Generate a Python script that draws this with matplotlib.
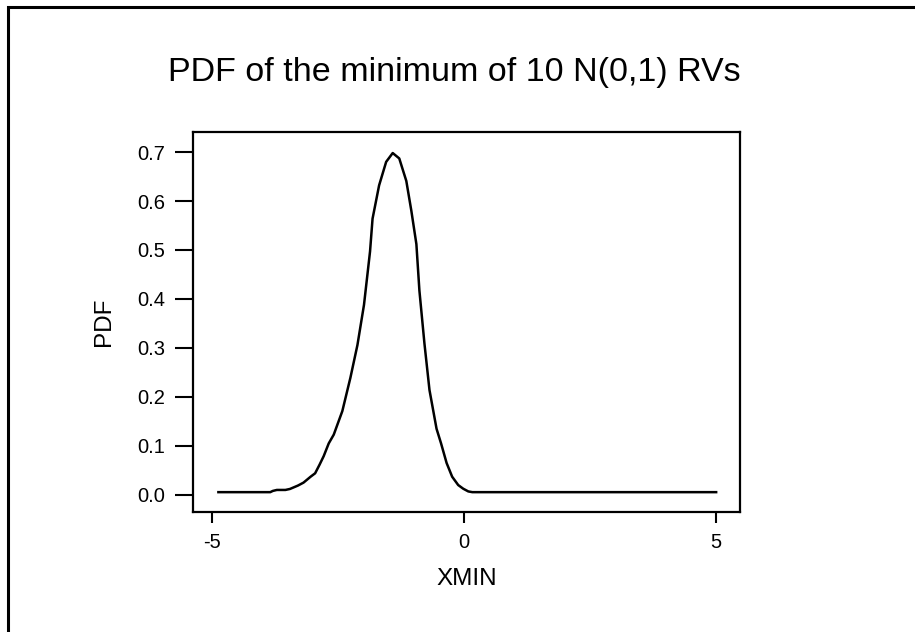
import matplotlib
matplotlib.use("Agg")
import matplotlib.pyplot as plt
from matplotlib.patches import Rectangle

plt.rcParams["font.family"] = ["Liberation Sans", "DejaVu Sans"]

# values
xmin_vals = [-4.88, -3.85, -3.80, -3.72, -3.55, -3.46, -3.30, -3.19, -3.05, -2.96,
             -2.87, -2.79, -2.69, -2.59, -2.42, -2.26, -2.12, -1.99, -1.87, -1.82,
             -1.69, -1.55, -1.42, -1.29, -1.15, -1.05, -0.95, -0.89, -0.79, -0.69,
             -0.55, -0.46, -0.35, -0.24, -0.12, -0.02, 0.08, 0.16, 5.0]
pdf_vals = [0.0055, 0.0055, 0.008, 0.010, 0.010, 0.012, 0.019, 0.025, 0.037, 0.044,
            0.062, 0.079, 0.105, 0.123, 0.171, 0.239, 0.306, 0.388, 0.497, 0.564,
            0.632, 0.680, 0.698, 0.687, 0.641, 0.580, 0.512, 0.417, 0.309, 0.214,
            0.135, 0.105, 0.065, 0.037, 0.020, 0.0125, 0.007, 0.0055, 0.0055]

x_ticks = [-5, 0, 5]
y_ticks = [0.0, 0.1, 0.2, 0.3, 0.4, 0.5, 0.6, 0.7]

fig = plt.figure(figsize=(9.15, 6.32), dpi=100)

# outer frame (runs off the right and bottom edges)
fig.add_artist(Rectangle((8 / 915, -0.5), 2, 1.5 - 7 / 632, transform=fig.transFigure,
                         fill=False, edgecolor="black", linewidth=2.2))

ax = fig.add_axes([0.2106, 0.1899, 0.5985, 0.6005])
ax.plot(xmin_vals, pdf_vals, color="black", linewidth=1.8)

ax.set_xlim(-5.39, 5.48)
ax.set_ylim(-0.035, 0.74)
ax.set_xticks(x_ticks)
ax.set_xticklabels([str(t) for t in x_ticks])
ax.set_yticks(y_ticks)
ax.set_yticklabels([f"{t:.1f}" for t in y_ticks])

for s in ax.spines.values():
    s.set_linewidth(1.6)
ax.tick_params(axis="y", direction="out", length=12.7, width=1.5, pad=7, labelsize=14.5)
ax.tick_params(axis="x", direction="out", length=8, width=1.5, pad=7, labelsize=14.5)

ax.set_xlabel("XMIN", fontsize=17.5, labelpad=12)
ax.set_ylabel("PDF", fontsize=17.5, labelpad=16)

fig.text(454 / 915, 1 - 72 / 632, "PDF of the minimum of 10 N(0,1) RVs",
         ha="center", va="center", fontsize=24.5)

fig.savefig("out.png", dpi=100)
